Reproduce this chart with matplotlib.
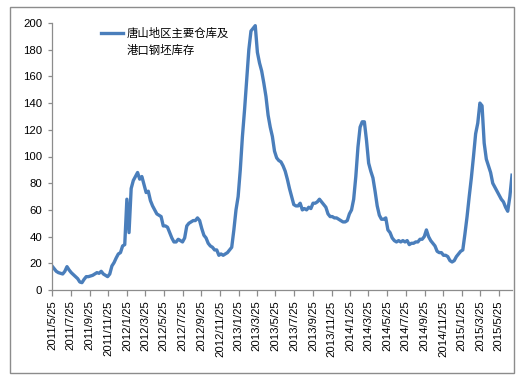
import numpy as np
import pandas as pd
import matplotlib
matplotlib.use("Agg")
import matplotlib.pyplot as plt
from matplotlib.patches import Rectangle
from matplotlib.lines import Line2D

plt.rcParams['font.family'] = ['Liberation Sans', 'Noto Sans CJK SC']

# weekly stock, 10k tonnes, starting 2011/5/25
start_date = '2011-05-25'
stock = [
    18, 16, 14, 13, 12.5, 12, 14, 17.5, 15, 13,
    11.5, 10, 8.5, 6, 5.5, 8, 10, 10, 10.5, 11,
    12, 13, 12.5, 14, 12, 11, 10, 12, 18, 20.5,
    24, 27, 28, 33, 34, 68, 43, 76, 82, 85,
    88, 83, 85, 79, 73, 74, 67, 63, 60, 57,
    56, 55, 48, 48, 47, 43, 39, 36, 36, 38,
    37, 36, 39, 48, 50, 51, 52, 52, 54, 52,
    46, 41, 39, 35, 33, 32, 30, 30, 26, 27,
    26, 27, 28, 30, 32, 45, 60, 70, 90, 115,
    135, 158, 180, 194, 196, 198, 178, 170, 164, 155,
    145, 131, 122, 115, 104, 99, 97, 96, 93, 89,
    83, 76, 70, 64, 63, 63, 65, 60, 61, 60,
    62, 61, 65, 65, 66, 68, 66, 64, 62, 57,
    55, 55, 54, 54, 53, 52, 51, 51, 52, 57,
    60, 68, 85, 107, 122, 126, 126, 112, 95, 89,
    84, 74, 63, 56, 53, 53, 54, 45, 43, 39,
    37, 36, 37, 36, 37, 36, 37, 34, 35, 35,
    36, 36, 38, 38, 40, 45, 40, 37, 35, 33,
    29, 28, 28, 26, 26, 25, 22, 21, 22, 25,
    27, 29, 30, 42, 55, 70, 84, 100, 117, 125,
    140, 138, 110, 98, 93, 88, 80, 77, 74, 71,
    68, 66, 62, 59, 70, 86,
]
tick_labels = [
    '2011/5/25', '2011/7/25', '2011/9/25', '2011/11/25',
    '2012/1/25', '2012/3/25', '2012/5/25', '2012/7/25', '2012/9/25', '2012/11/25',
    '2013/1/25', '2013/3/25', '2013/5/25', '2013/7/25', '2013/9/25', '2013/11/25',
    '2014/1/25', '2014/3/25', '2014/5/25', '2014/7/25', '2014/9/25', '2014/11/25',
    '2015/1/25', '2015/3/25', '2015/5/25',
]
series_name = ['唐山地区主要仓库及', '港口钢坯库存']  # wrapped over two lines

dates = pd.date_range(start_date, periods=len(stock), freq='7D')
tick_pos = pd.to_datetime(tick_labels, format='%Y/%m/%d')

W, H = 525, 383
fig = plt.figure(figsize=(W / 100, H / 100), dpi=100)
fig.patches.append(Rectangle((10 / W, 1 - 373 / H), 504 / W, 366 / H,
                             transform=fig.transFigure, fill=False,
                             edgecolor='#8c8c8c', linewidth=1.0))

ax = fig.add_axes([52 / W, 1 - 290 / H, 460 / W, 267 / H])
line, = ax.plot(dates, stock, color='#4a7ebb', linewidth=2.4)

ax.set_ylim(0, 200)
ax.set_yticks(np.arange(0, 201, 20))
ax.set_xlim(dates[0], dates[-1])
ax.set_xticks(tick_pos)
ax.set_xticklabels(tick_labels, rotation=90)

for s in ['top', 'right']:
    ax.spines[s].set_visible(False)
for s in ['left', 'bottom']:
    ax.spines[s].set_color('#8c8c8c')
    ax.spines[s].set_linewidth(0.9)
ax.tick_params(axis='both', colors='#8c8c8c', labelcolor='black', labelsize=8.2,
               length=4, width=0.9)
ax.tick_params(axis='y', length=3, pad=4)

# second label line gets an empty handle so it sits under the first
blank = Line2D([], [], linestyle='none')
ax.legend([line, blank], series_name, loc='upper left', bbox_to_anchor=(0.085, 1.021),
          frameon=False, handlelength=1.9, handletextpad=0.35, labelspacing=0.5,
          prop={'family': ['Noto Sans CJK SC'], 'size': 8.2})

fig.savefig('out.png', dpi=100)
